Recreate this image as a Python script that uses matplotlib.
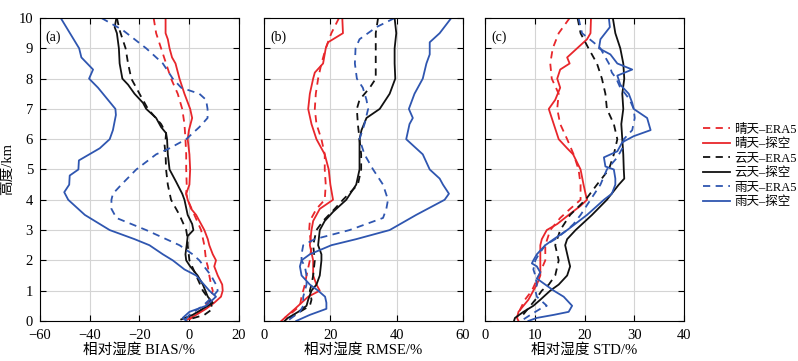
import matplotlib
matplotlib.use("Agg")
import matplotlib.pyplot as plt
from matplotlib.lines import Line2D

plt.rcParams['font.family'] = ['Liberation Serif', 'Noto Sans CJK SC']
plt.rcParams['axes.unicode_minus'] = True

RED = '#e8262b'
BLACK = '#111111'
BLUE = '#2f56b0'

# ---------------- (a) BIAS ----------------
a_blue_solid_h = [10, 9, 8.7, 8.3, 8.0, 7.7, 7.0, 6.8, 6.3, 6.0, 5.7, 5.3, 5.0, 4.8, 4.5, 4.25,
                  4.0, 3.5, 3.0, 2.7, 2.5, 2.2, 2.0, 1.7, 1.5, 1.0, 0.8, 0.5, 0.3, 0.1, 0.0]
a_blue_solid = [-51.6, -44.2, -43.3, -38.6, -40.2, -36.6, -29.6, -29.4, -30.6, -31.9, -35.9, -44.3,
                -44.5, -48.0, -48.2, -50.2, -48.6, -41.9, -31.9, -21.9, -15.9, -10.5, -6.5, -1.8,
                2.9, 8.2, 10.9, 6.9, 0.2, -2.5, -1.0]
a_blue_dash_h = [10, 9.6, 9.0, 8.5, 8.0, 7.7, 7.5, 7.3, 7.0, 6.7, 6.4, 6.0, 5.7, 5.5, 5.0, 4.5, 4.2,
                 4.0, 3.7, 3.4, 3.0, 2.5, 2.2, 2.0, 1.5, 1.2, 1.0, 0.8, 0.5, 0.35, 0.2, 0.0]
a_blue_dash = [-35.2, -26.6, -17.2, -10.5, -6.5, -3.1, 4.2, 6.9, 7.5, 7.5, 4.2, -1.1, -7.8, -13.2,
               -21.2, -27.2, -30.6, -31.2, -31.2, -29.2, -17.2, -3.8, 1.5, 4.2, 8.9, 10.9, 11.6,
               9.6, 5.6, 2.9, 0.2, -1.8]
a_black_solid_h = [10, 9.7, 9.5, 9.0, 8.5, 8.0, 7.8, 7.5, 7.2, 7.0, 6.7, 6.4, 6.2, 6.0, 5.5, 5.0,
                   4.6, 4.2, 4.0, 3.5, 3.2, 3.0, 2.8, 2.5, 2.2, 2.0, 1.8, 1.5, 1.2, 1.0, 0.8, 0.6,
                   0.4, 0.2, 0.05]
a_black_solid = [-29.2, -29.9, -29.0, -28.2, -27.9, -26.8, -24.5, -21.9, -18.5, -17.2, -13.2, -11.2,
                 -9.2, -8.8, -8.5, -7.8, -5.2, -2.7, -1.8, -0.5, 1.3, 1.8, -0.5, -0.9, -1.4, -1.1,
                 0.5, 3.5, 5.6, 6.6, 7.6, 9.6, 5.6, 1.5, -3.1]
a_black_dash_h = [10, 9.6, 9.0, 8.5, 8.0, 7.5, 7.0, 6.5, 6.2, 6.0, 5.8, 5.5, 5.0, 4.5, 4.0, 3.5,
                  3.0, 2.7, 2.5, 2.0, 1.5, 1.0, 0.7, 0.4, 0.2, 0.05]
a_black_dash = [-29.0, -27.9, -25.5, -24.5, -23.2, -19.9, -16.5, -11.2, -9.2, -9.4, -9.8, -9.4,
                -9.2, -8.5, -7.2, -3.8, -1.1, -0.5, -0.5, 0.2, 2.9, 5.6, 8.2, 9.6, 6.2, 0.0]
a_red_solid_h = [10, 9.5, 9.3, 9.0, 8.7, 8.5, 8.0, 7.5, 7.0, 6.7, 6.3, 6.0, 5.5, 5.0, 4.5, 4.2,
                 4.0, 3.7, 3.5, 3.0, 2.7, 2.5, 2.2, 2.0, 1.8, 1.5, 1.2, 1.0, 0.8, 0.6, 0.4, 0.2,
                 0.05]
a_red_solid = [-9.4, -9.4, -8.5, -7.8, -6.8, -5.4, -3.8, -1.8, 0.5, 1.3, 0.0, -0.5, 0.2, 0.5, 0.2,
               -1.1, -0.5, 0.9, 2.9, 6.2, 7.6, 8.2, 9.6, 10.9, 10.2, 11.6, 13.4, 13.6, 12.9, 10.2,
               6.9, 2.9, -0.5]
a_red_dash_h = [10, 9.5, 9.0, 8.5, 8.0, 7.5, 7.0, 6.5, 6.0, 5.5, 5.0, 4.5, 4.2, 4.0, 3.5, 3.0,
                2.5, 2.0, 1.8, 1.5, 1.2, 1.0, 0.8, 0.6, 0.4, 0.2, 0.05]
a_red_dash = [-14.2, -13.2, -11.2, -9.2, -7.2, -4.5, -2.7, -1.8, -1.4, -1.1, -1.1, -0.9, -1.1,
              -0.5, 2.2, 4.9, 6.2, 6.9, 7.6, 8.2, 8.9, 9.6, 8.9, 7.6, 5.6, 2.9, 0.2]

# ---------------- (b) RMSE ----------------
b_blue_solid_h = [10, 9.5, 9.2, 8.8, 8.5, 8.0, 7.5, 7.0, 6.7, 6.5, 6.0, 5.5, 5.0, 4.7, 4.5, 4.2,
                  4.0, 3.5, 3.0, 2.7, 2.5, 2.2, 2.0, 1.8, 1.5, 1.2, 1.0, 0.8, 0.6, 0.4, 0.2, 0.0]
b_blue_solid = [56.5, 53.0, 50.0, 50.0, 49.0, 47.9, 45.4, 43.7, 44.9, 43.9, 42.9, 47.9, 50.0,
                53.0, 54.0, 55.8, 54.5, 45.9, 37.9, 27.8, 20.3, 13.8, 11.3, 10.8, 11.3, 13.8,
                16.3, 18.4, 18.8, 18.8, 13.8, 9.7]
b_blue_dash_h = [10, 9.7, 9.3, 9.0, 8.5, 8.0, 7.7, 7.3, 7.0, 6.5, 6.0, 5.5, 5.0, 4.5, 4.0, 3.7,
                 3.4, 3.0, 2.7, 2.5, 2.2, 2.0, 1.8, 1.5, 1.2, 1.0, 0.8, 0.5, 0.3, 0.0]
b_blue_dash = [39.4, 33.9, 28.8, 27.6, 27.4, 28.0, 29.8, 30.9, 31.4, 30.3, 28.8, 30.3, 32.9,
               35.9, 37.4, 36.9, 35.9, 25.8, 15.3, 11.8, 11.3, 11.3, 12.3, 12.8, 12.8, 12.3,
               11.8, 11.8, 10.8, 7.0]
b_black_solid_h = [10, 9.5, 9.0, 8.5, 8.0, 7.5, 7.0, 6.7, 6.3, 6.0, 5.5, 5.0, 4.5, 4.0, 3.6, 3.3,
                   3.0, 2.5, 2.2, 2.0, 1.5, 1.2, 1.0, 0.7, 0.5, 0.3, 0.1, 0.0]
b_black_solid = [39.4, 39.9, 39.4, 39.4, 39.6, 37.9, 34.9, 30.9, 29.4, 28.8, 28.8, 28.8, 27.8,
                 24.8, 20.8, 18.3, 16.8, 16.3, 17.3, 17.3, 16.8, 15.8, 14.3, 13.3, 12.8, 10.3,
                 7.2, 6.2]
b_black_dash_h = [10, 9.5, 9.0, 8.5, 8.0, 7.7, 7.3, 7.0, 6.5, 6.0, 5.5, 5.0, 4.5, 4.0, 3.7, 3.3,
                  3.0, 2.5, 2.0, 1.5, 1.2, 1.0, 0.7, 0.5, 0.3, 0.1]
b_black_dash = [34.4, 33.7, 33.7, 33.7, 33.7, 31.9, 28.8, 28.0, 28.3, 28.8, 29.3, 29.3, 28.3,
                23.8, 21.3, 17.8, 15.8, 14.8, 15.3, 14.8, 14.3, 13.8, 14.3, 13.8, 10.8, 7.7]
b_red_solid_h = [10, 9.5, 9.2, 9.0, 8.5, 8.2, 8.0, 7.5, 7.0, 6.5, 6.0, 5.5, 5.0, 4.5, 4.0, 3.7,
                 3.3, 3.0, 2.5, 2.0, 1.5, 1.2, 1.0, 0.8, 0.6, 0.4, 0.2, 0.0]
b_red_solid = [23.6, 23.8, 19.3, 18.6, 17.8, 15.3, 14.8, 13.8, 13.3, 14.3, 15.8, 18.3, 19.5,
               20.0, 20.8, 16.8, 14.8, 14.3, 13.8, 14.8, 14.8, 15.8, 16.8, 13.3, 11.3, 9.3, 7.2,
               5.2]
b_red_dash_h = [10, 9.5, 9.0, 8.5, 8.0, 7.5, 7.0, 6.5, 6.0, 5.5, 5.0, 4.5, 4.0, 3.7, 3.3, 3.0,
                2.5, 2.0, 1.5, 1.2, 1.0, 0.8, 0.5, 0.3, 0.1]
b_red_dash = [22.6, 20.3, 18.6, 17.3, 16.3, 15.6, 15.3, 15.8, 17.3, 18.3, 18.3, 18.6, 18.3, 15.8,
              13.8, 13.6, 14.3, 13.8, 12.8, 12.3, 11.8, 11.3, 10.8, 8.7, 6.2]

# ---------------- (c) STD ----------------
c_red_solid_h = [10, 9.5, 9.3, 9.0, 8.7, 8.5, 8.3, 8.0, 7.7, 7.3, 7.0, 6.5, 6.0, 5.7, 5.5, 5.0,
                 4.5, 4.2, 4.0, 3.8, 3.5, 3.2, 3.0, 2.7, 2.5, 2.0, 1.5, 1.2, 1.0, 0.7, 0.5, 0.3,
                 0.1, 0.0]
c_red_solid = [21.3, 21.2, 20.5, 18.5, 16.5, 17.0, 15.1, 14.5, 15.1, 14.1, 12.8, 13.8, 14.8, 16.5,
               17.7, 19.2, 19.8, 20.2, 20.5, 19.2, 16.8, 14.5, 12.4, 11.4, 11.1, 11.1, 11.1, 10.4,
               9.7, 8.7, 7.7, 6.7, 6.4, 6.7]
c_red_dash_h = [10, 9.5, 9.0, 8.5, 8.0, 7.5, 7.0, 6.5, 6.0, 5.5, 5.0, 4.5, 4.0, 3.7, 3.4, 3.0,
                2.5, 2.0, 1.5, 1.0, 0.7, 0.4, 0.1]
c_red_dash = [17.0, 14.8, 13.6, 13.1, 13.4, 14.8, 14.5, 15.1, 16.5, 17.8, 18.8, 19.2, 19.2, 17.1,
              15.1, 13.1, 12.1, 12.1, 10.8, 9.4, 8.0, 7.1, 6.4]
c_black_solid_h = [10, 9.5, 9.0, 8.5, 8.0, 7.5, 7.0, 6.5, 6.0, 5.5, 5.0, 4.7, 4.5, 4.0, 3.5, 3.0,
                   2.7, 2.5, 2.0, 1.8, 1.5, 1.2, 1.0, 0.7, 0.5, 0.3, 0.1, 0.0]
c_black_solid = [25.7, 26.2, 27.2, 27.8, 28.0, 27.6, 27.8, 27.4, 27.6, 27.8, 27.9, 28.0, 26.9,
                 24.5, 21.5, 18.2, 16.5, 16.1, 16.8, 17.1, 16.5, 14.8, 13.1, 11.1, 9.7, 7.7, 6.0,
                 5.8]
c_black_dash_h = [10, 9.5, 9.0, 8.5, 8.0, 7.5, 7.0, 6.5, 6.0, 5.5, 5.0, 4.5, 4.0, 3.5, 3.0, 2.5,
                  2.0, 1.5, 1.2, 1.0, 0.7, 0.5, 0.3, 0.1]
c_black_dash = [18.6, 19.2, 20.8, 22.5, 23.5, 24.2, 24.5, 25.9, 26.6, 25.9, 24.9, 22.5, 20.2, 17.1,
                15.1, 14.1, 14.8, 14.1, 12.8, 11.4, 10.1, 9.1, 8.1, 7.1]
c_blue_solid_h = [10, 9.7, 9.3, 9.0, 8.8, 8.5, 8.3, 8.1, 7.8, 7.5, 7.2, 7.0, 6.7, 6.3, 6.1, 5.9,
                  5.6, 5.4, 5.1, 5.0, 4.7, 4.5, 4.2, 4.0, 3.5, 3.0, 2.7, 2.5, 2.2, 2.0, 1.9, 1.8,
                  1.6, 1.4, 1.2, 1.0, 0.8, 0.5, 0.3, 0.2, 0.1, 0.0]
c_blue_solid = [24.9, 25.1, 23.2, 22.9, 25.2, 26.6, 29.6, 26.6, 27.2, 28.9, 29.6, 29.9, 32.6, 33.3,
                29.9, 27.6, 26.6, 23.9, 24.2, 25.9, 26.2, 26.2, 25.5, 23.9, 20.5, 16.5, 13.8, 12.1,
                10.4, 9.7, 9.4, 10.4, 11.1, 10.4, 12.1, 13.8, 15.8, 17.5, 16.8, 13.8, 10.4, 8.7]
c_blue_dash_h = [10, 9.7, 9.5, 9.2, 9.0, 8.7, 8.5, 8.2, 8.0, 7.7, 7.5, 7.3, 7.0, 6.7, 6.3, 6.0,
                 5.7, 5.4, 5.0, 4.5, 4.0, 3.5, 3.2, 3.0, 2.7, 2.5, 2.2, 2.0, 1.7, 1.5, 1.2, 1.0,
                 0.8, 0.5, 0.4, 0.2, 0.05]
c_blue_dash = [18.8, 19.2, 19.5, 21.8, 23.2, 24.2, 24.9, 25.5, 26.4, 27.2, 28.2, 29.1, 29.9, 30.1,
               29.6, 27.9, 27.6, 26.6, 24.5, 23.2, 21.2, 19.2, 17.8, 16.5, 14.1, 12.1, 10.8, 10.1,
               9.7, 10.1, 10.4, 10.1, 10.4, 12.4, 11.1, 9.1, 7.7]

labels = ['晴天–ERA5', '晴天–探空', '云天–ERA5', '云天–探空', '雨天–ERA5', '雨天–探空']
colors = [RED, RED, BLACK, BLACK, BLUE, BLUE]
styles = [(0, (4, 3)), '-', (0, (4, 3)), '-', (0, (4, 3)), '-']

panels = [
    ('(a)', '相对湿度 BIAS/%', (-60, 20), [-60, -40, -20, 0, 20],
     [(a_red_dash, a_red_dash_h), (a_red_solid, a_red_solid_h),
      (a_black_dash, a_black_dash_h), (a_black_solid, a_black_solid_h),
      (a_blue_dash, a_blue_dash_h), (a_blue_solid, a_blue_solid_h)]),
    ('(b)', '相对湿度 RMSE/%', (0, 60), [0, 20, 40, 60],
     [(b_red_dash, b_red_dash_h), (b_red_solid, b_red_solid_h),
      (b_black_dash, b_black_dash_h), (b_black_solid, b_black_solid_h),
      (b_blue_dash, b_blue_dash_h), (b_blue_solid, b_blue_solid_h)]),
    ('(c)', '相对湿度 STD/%', (0, 40), [0, 10, 20, 30, 40],
     [(c_red_dash, c_red_dash_h), (c_red_solid, c_red_solid_h),
      (c_black_dash, c_black_dash_h), (c_black_solid, c_black_solid_h),
      (c_blue_dash, c_blue_dash_h), (c_blue_solid, c_blue_solid_h)]),
]

fig = plt.figure(figsize=(7.98, 3.61), dpi=100)
lefts = [0.050, 0.331, 0.608]

for i, (tag, xlabel, xlim, xticks, curves) in enumerate(panels):
    ax = fig.add_axes([lefts[i], 0.111, 0.249, 0.839])
    for (vals, hts), c, ls in zip(curves, colors, styles):
        ax.plot(vals, hts, color=c, linestyle=ls, lw=1.3)
    ax.set_xlim(*xlim)
    ax.set_ylim(0, 10)
    ax.set_xticks(xticks)
    ax.set_yticks(range(0, 11))
    ax.grid(True, color='#d4d4d4', lw=0.8)
    ax.set_axisbelow(True)
    ax.tick_params(direction='in', length=4, width=0.8, top=True, right=True,
                   labelsize=10.5)
    ax.tick_params(axis='x', pad=6)
    ax.tick_params(axis='y', pad=5)
    for sp in ax.spines.values():
        sp.set_linewidth(0.8)
    ax.set_xlabel(xlabel, fontsize=10.5, labelpad=1)
    if i == 0:
        ax.set_ylabel('高度/km', fontsize=10.5, labelpad=3)
    else:
        ax.set_yticklabels([])
    ax.text(0.03, 0.96, tag, transform=ax.transAxes, ha='left', va='top', fontsize=10)

handles = [Line2D([0], [0], color=c, linestyle=ls, lw=1.3) for c, ls in zip(colors, styles)]
fig.legend(handles, labels, loc='center left', bbox_to_anchor=(0.873, 0.54), frameon=False,
           fontsize=9, handlelength=2.2, handletextpad=0.3, labelspacing=0.2, borderpad=0)

fig.savefig('out.png', dpi=100)
